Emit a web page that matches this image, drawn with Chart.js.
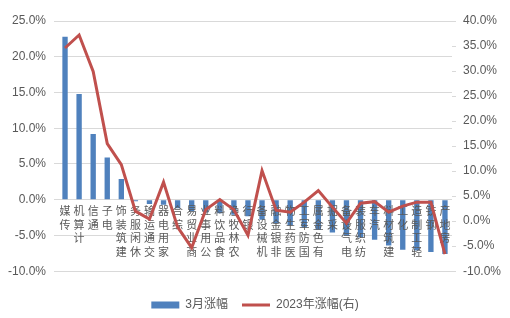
<!DOCTYPE html>
<html>
<head>
<meta charset="utf-8">
<script src="https://cdn.jsdelivr.net/npm/chart.js@4"></script>
<style>
  html, body { margin: 0; padding: 0; background: #fff; }
  #wrap { width: 510px; height: 318px; }
</style>
</head>
<body>
<div id="wrap"><canvas id="chart"></canvas></div>
<script>
// 行业名称
const categories = ['传媒', '计算机', '通信', '电子', '建筑装饰', '休闲服务', '交通运输', '家用电器', '综合', '商业贸易',
  '公用事业', '食品饮料', '农林牧渔', '银行', '机械设备', '非银金融', '医药生物', '国防军工', '有色金属', '采掘',
  '电气设备', '纺织服装', '汽车', '建筑材料', '化工', '轻工制造', '钢铁', '房地产'];

// 3月涨幅 (%)
const marchChange = [22.8, 14.8, 9.2, 5.9, 2.9, -0.2, -0.6, -0.7, -1.2, -1.6,
  -1.8, -1.9, -2.1, -2.3, -2.8, -3.3, -3.6, -3.9, -4.2, -4.6,
  -5.0, -5.3, -5.6, -6.4, -7.0, -7.1, -7.3, -7.6];

// 2023年涨幅 (%), 右轴
const yearChange = [34.6, 37.2, 29.9, 15.5, 11.3, 2.0, 0.4, 7.8, -1.2, -5.3,
  2.3, 4.3, 2.3, -2.8, 10.1, 2.2, 1.8, 3.8, 6.1, 2.8,
  -0.4, 3.6, 3.9, 1.8, 3.0, 3.8, 3.8, -6.6];

// 刻度
const leftTicks = { min: -10, max: 25, step: 5 };
const rightTicks = { min: -10, max: 40, step: 5 };

const textColor = '#595959';
const latin = '"Liberation Sans", "Noto Sans CJK SC", sans-serif';

// 类别标签: 竖排, 画在0轴下方
const verticalLabels = {
    id: 'verticalLabels',
    afterDatasetDraw(chart, args) {
        if (args.index !== 0) return;
        const ctx = chart.ctx;
        const xs = chart.scales.x;
        const ys = chart.scales.y;
        const top = ys.getPixelForValue(0) + 6;
        ctx.save();
        ctx.font = '11px "Noto Sans CJK SC", sans-serif';
        ctx.fillStyle = textColor;
        ctx.textAlign = 'center';
        ctx.textBaseline = 'top';
        categories.forEach(function(name, i) {
            const x = xs.getPixelForValue(i);
            const chars = name.split('').reverse();
            chars.forEach(function(c, k) {
                ctx.fillText(c, x, top + k * 13.5);
            });
        });
        ctx.restore();
    }
};

const ctx = document.getElementById('chart').getContext('2d');
const chart = new Chart(ctx, {
    type: 'bar',
    data: {
        labels: categories,
        datasets: [{
            label: '3月涨幅',
            data: marchChange,
            backgroundColor: '#4f81bd',
            borderWidth: 0,
            barPercentage: 0.38,
            categoryPercentage: 1,
            pointStyle: 'rect',
            yAxisID: 'y',
            order: 1
        }, {
            type: 'line',
            label: '2023年涨幅(右)',
            data: yearChange,
            borderColor: '#c0504d',
            backgroundColor: '#c0504d',
            borderWidth: 3,
            pointRadius: 0,
            pointStyle: 'line',
            tension: 0,
            yAxisID: 'y1',
            order: 0
        }]
    },
    options: {
        responsive: true,
        maintainAspectRatio: false,
        animation: false,
        layout: { padding: { top: 21, bottom: -3 } },
        plugins: {
            legend: {
                position: 'bottom',
                title: { display: true, text: ' ', padding: 0, font: { size: 11.5 } },
                labels: {
                    usePointStyle: true,
                    pointStyleWidth: 28,
                    boxHeight: 7,
                    padding: 14,
                    color: textColor,
                    font: { size: 12, family: latin },
                    sort: function(a, b) { return a.datasetIndex - b.datasetIndex; }
                }
            },
            tooltip: { enabled: false }
        },
        scales: {
            x: {
                type: 'category',
                offset: true,
                display: false
            },
            y: {
                position: 'left',
                min: leftTicks.min,
                max: leftTicks.max,
                afterFit: function(scale) { scale.width = 58; },
                ticks: {
                    stepSize: leftTicks.step,
                    padding: 8,
                    color: textColor,
                    font: { size: 12, family: latin },
                    callback: function(v) { return v.toFixed(1) + '%'; }
                },
                grid: { color: '#d9d9d9', tickLength: 4 },
                border: { display: false }
            },
            y1: {
                position: 'right',
                min: rightTicks.min,
                max: rightTicks.max,
                afterFit: function(scale) { scale.width = 58; },
                ticks: {
                    stepSize: rightTicks.step,
                    padding: 7,
                    color: textColor,
                    font: { size: 12, family: latin },
                    callback: function(v) { return v.toFixed(1) + '%'; }
                },
                grid: { drawOnChartArea: false, color: '#d9d9d9', tickLength: 4 },
                border: { display: false }
            }
        }
    },
    plugins: [verticalLabels]
});
</script>
</body>
</html>
